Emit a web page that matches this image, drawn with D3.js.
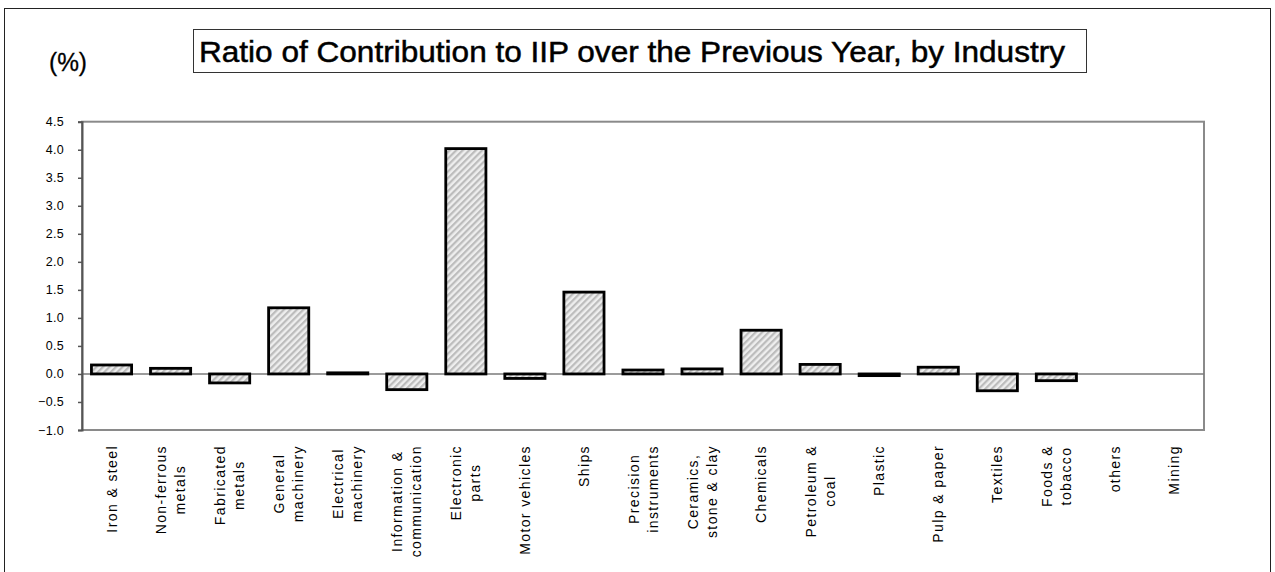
<!DOCTYPE html>
<html>
<head>
<meta charset="utf-8">
<script src="https://cdn.jsdelivr.net/npm/d3@7"></script>
<style>
  html, body { margin: 0; padding: 0; background: #fff; }
  svg { display: block; }
</style>
</head>
<body>
<svg id="chart" width="1275" height="572"></svg>
<script>
const categories = [
  "Iron & steel", "Non-ferrous\nmetals", "Fabricated\nmetals", "General\nmachinery",
  "Electrical\nmachinery", "Information &\ncommunication", "Electronic\nparts",
  "Motor vehicles", "Ships", "Precision\ninstruments", "Ceramics,\nstone & clay",
  "Chemicals", "Petroleum &\ncoal", "Plastic", "Pulp & paper", "Textiles",
  "Foods &\ntobacco", "others", "Mining"
];
const values = [0.16, 0.10, -0.16, 1.18, 0.02, -0.28, 4.02, -0.08, 1.46, 0.07,
  0.09, 0.78, 0.17, -0.03, 0.12, -0.30, -0.12, null, null];
const yTicks = [-1.0, -0.5, 0.0, 0.5, 1.0, 1.5, 2.0, 2.5, 3.0, 3.5, 4.0, 4.5];
const titleText = "Ratio of Contribution to IIP over the Previous Year, by Industry";
const unitText = "(%)";

const svg = d3.select("#chart");
const plot = { left: 82, right: 1204, top: 121.7, bottom: 430 };
const font = "Liberation Sans, Arial, sans-serif";

// outer frame
svg.append("rect").attr("x", 4.5).attr("y", 8.5).attr("width", 1266).attr("height", 600)
  .attr("fill", "none").attr("stroke", "#222").attr("stroke-width", 1);

// hatch pattern
const defs = svg.append("defs");
const pat = defs.append("pattern").attr("id", "hatch").attr("patternUnits", "userSpaceOnUse")
  .attr("width", 4.6).attr("height", 4.6).attr("patternTransform", "rotate(45)");
pat.append("rect").attr("width", 4.6).attr("height", 4.6).attr("fill", "#eeeeee");
pat.append("rect").attr("width", 2.2).attr("height", 4.6).attr("fill", "#bcbcbc");

const x = d3.scaleBand().domain(categories).range([plot.left, plot.right])
  .paddingInner(0.32).paddingOuter(0.16);
const y = d3.scaleLinear().domain([-1.0, 4.5]).range([plot.bottom, plot.top]);

// plot border
svg.append("rect").attr("x", plot.left).attr("y", plot.top)
  .attr("width", plot.right - plot.left).attr("height", plot.bottom - plot.top)
  .attr("fill", "none").attr("stroke", "#8a8a8a").attr("stroke-width", 2);

// zero line
svg.append("line").attr("x1", plot.left).attr("x2", plot.right)
  .attr("y1", y(0)).attr("y2", y(0)).attr("stroke", "#7a7a7a").attr("stroke-width", 1.5);

// y axis
const yAxis = d3.axisLeft(y).tickValues(yTicks).tickFormat(d3.format(".1f")).tickSize(4).tickPadding(14);
const ya = svg.append("g").attr("transform", `translate(${plot.left},0)`).call(yAxis);
ya.select(".domain").attr("stroke", "#555").attr("stroke-width", 2);
ya.selectAll(".tick line").attr("stroke", "#555").attr("stroke-width", 1.5);
ya.selectAll(".tick text").attr("fill", "#000").style("font-family", font)
  .style("font-size", "12.5px").style("letter-spacing", "0.3px");

// bars
svg.append("g").selectAll("rect").data(categories.map((c, i) => ({ c, v: values[i] })).filter(d => d.v !== null))
  .enter().append("rect")
  .attr("x", d => x(d.c))
  .attr("width", x.bandwidth())
  .attr("y", d => y(Math.max(0, d.v)))
  .attr("height", d => Math.max(1, Math.abs(y(d.v) - y(0))))
  .attr("fill", "url(#hatch)").attr("stroke", "#000").attr("stroke-width", 2.8);

// x labels
const labelTop = 445;
const lineGap = 19;
const lg = svg.append("g").style("font-family", font)
  .style("font-size", "14px").style("letter-spacing", "1.4px").attr("fill", "#000");
categories.forEach(c => {
  const lines = c.split("\n");
  const cx = x(c) + x.bandwidth() / 2;
  const g = lg.append("g");
  const texts = lines.map((ln, i) => {
    const off = (i - (lines.length - 1) / 2) * lineGap;
    return g.append("text").text(ln).attr("text-anchor", "middle")
      .attr("dominant-baseline", "central")
      .attr("transform", `translate(${cx + off},0) rotate(-90)`);
  });
  const maxLen = d3.max(texts, t => t.node().getComputedTextLength());
  texts.forEach(t => t.attr("x", -(labelTop + maxLen / 2)));
});

// title box
svg.append("rect").attr("x", 193.5).attr("y", 29.5).attr("width", 893).attr("height", 43)
  .attr("fill", "#fff").attr("stroke", "#333").attr("stroke-width", 1);
svg.append("text").text(titleText).attr("x", 199).attr("y", 62)
  .attr("textLength", 866).attr("lengthAdjust", "spacingAndGlyphs")
  .style("font-family", font).style("font-size", "30px").attr("fill", "#000")
  .attr("stroke", "#000").attr("stroke-width", 0.5);
svg.append("text").text(unitText).attr("x", 49).attr("y", 71)
  .attr("textLength", 38).attr("lengthAdjust", "spacingAndGlyphs")
  .style("font-family", font).style("font-size", "25px").attr("fill", "#000")
  .attr("stroke", "#000").attr("stroke-width", 0.3);
</script>
</body>
</html>
